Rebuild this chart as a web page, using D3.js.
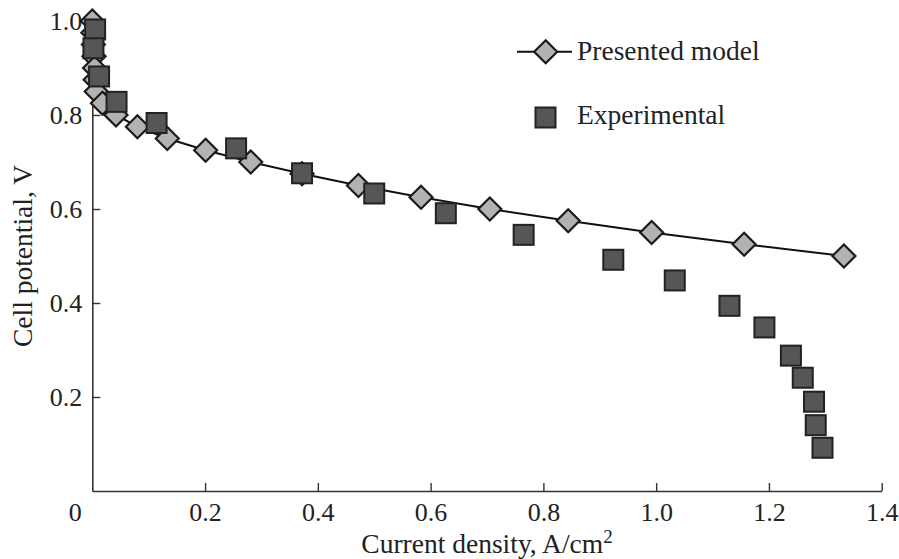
<!DOCTYPE html>
<html>
<head>
<meta charset="utf-8">
<script src="https://cdn.jsdelivr.net/npm/d3@7/dist/d3.min.js"></script>
<style>
  html, body { margin: 0; padding: 0; background: #fff; }
  svg { display: block; }
  text { font-family: "Liberation Serif", "Times New Roman", serif; fill: #222; }
</style>
</head>
<body>
<svg id="chart" width="899" height="559"></svg>
<script>
// Model curve: current density (A/cm2) against cell potential (V)
const modelCurrent   = [0.000, 0.001, 0.002, 0.003, 0.004, 0.005, 0.007, 0.018, 0.042, 0.080,
                        0.133, 0.201, 0.281, 0.372, 0.472, 0.583, 0.705, 0.844, 0.992, 1.156, 1.333];
const modelPotential = [1.000, 0.975, 0.950, 0.925, 0.900, 0.875, 0.850, 0.825, 0.800, 0.775,
                        0.750, 0.725, 0.700, 0.675, 0.650, 0.625, 0.600, 0.575, 0.550, 0.525, 0.500];

// Measured polarisation points
const expCurrent   = [0.005, 0.002, 0.012, 0.043, 0.114, 0.255, 0.372, 0.500, 0.627, 0.765,
                      0.924, 1.033, 1.130, 1.192, 1.239, 1.260, 1.280, 1.283, 1.295];
const expPotential = [0.982, 0.942, 0.882, 0.828, 0.783, 0.729, 0.676, 0.633, 0.591, 0.545,
                      0.492, 0.448, 0.394, 0.348, 0.288, 0.241, 0.190, 0.140, 0.092];

const xTicks = [0.2, 0.4, 0.6, 0.8, 1.0, 1.2, 1.4];
const yTicks = [0.2, 0.4, 0.6, 0.8, 1.0];
const seriesNames = ["Presented model", "Experimental"];

const svg = d3.select("#chart");
const x = d3.scaleLinear().domain([0, 1.4]).range([92.3, 881.7]);
const y = d3.scaleLinear().domain([0, 1.0]).range([491, 21]);

const tickFont = 26;
const titleFont = 27.5;
const axisColor = "#333";

// X axis (ticks pointing into the plot)
const gx = svg.append("g")
  .attr("transform", `translate(0,${y(0)})`)
  .call(d3.axisBottom(x).tickValues(xTicks).tickFormat(d3.format(".1f"))
        .tickSizeInner(-8).tickSizeOuter(0).tickPadding(12));
gx.select(".domain").attr("stroke", axisColor).attr("stroke-width", 1.6);
gx.selectAll(".tick line").attr("stroke", axisColor).attr("stroke-width", 1.4);
gx.selectAll(".tick text").attr("font-size", tickFont).attr("font-family", "Liberation Serif").attr("fill", "#222");

// origin label shared by both axes
svg.append("text")
  .attr("x", x(0) - 17).attr("y", y(0) + 12).attr("dy", "0.71em")
  .attr("text-anchor", "middle").attr("font-size", tickFont).text("0");

// Y axis
const gy = svg.append("g")
  .attr("transform", `translate(${x(0)},0)`)
  .call(d3.axisLeft(y).tickValues(yTicks).tickFormat(d3.format(".1f"))
        .tickSizeInner(-8).tickSizeOuter(0).tickPadding(10));
gy.select(".domain").attr("stroke", axisColor).attr("stroke-width", 1.6);
gy.selectAll(".tick line").attr("stroke", axisColor).attr("stroke-width", 1.4);
gy.selectAll(".tick text").attr("font-size", tickFont).attr("font-family", "Liberation Serif").attr("fill", "#222");

// Axis titles
const xTitle = svg.append("text")
  .attr("x", (x(0) + x(1.4)) / 2).attr("y", 552.5)
  .attr("text-anchor", "middle").attr("font-size", titleFont);
xTitle.append("tspan").text("Current density, A/cm");
xTitle.append("tspan").attr("dy", -10).attr("font-size", 19).text("2");

svg.append("text")
  .attr("transform", `translate(32,${(y(0) + y(1)) / 2}) rotate(-90)`)
  .attr("text-anchor", "middle").attr("font-size", titleFont)
  .text("Cell potential, V");

// Marker shapes
const diamondPath = (r) => `M0,${-r}L${r},0L0,${r}L${-r},0Z`;
const sqSize = 20;

const modelData = modelCurrent.map((c, i) => ({ c, v: modelPotential[i] }));
const expData = expCurrent.map((c, i) => ({ c, v: expPotential[i] }));

// Model line
svg.append("path")
  .datum(modelData)
  .attr("fill", "none").attr("stroke", "#111").attr("stroke-width", 2)
  .attr("d", d3.line().x(d => x(d.c)).y(d => y(d.v)));

// Model diamonds
svg.append("g").selectAll("path")
  .data(modelData).join("path")
  .attr("transform", d => `translate(${x(d.c)},${y(d.v)})`)
  .attr("d", diamondPath(11.5))
  .attr("fill", "#b2b2b2").attr("stroke", "#1a1a1a").attr("stroke-width", 2.2)
  .attr("stroke-linejoin", "miter");

// Experimental squares
svg.append("g").selectAll("rect")
  .data(expData).join("rect")
  .attr("x", d => x(d.c) - sqSize / 2).attr("y", d => y(d.v) - sqSize / 2)
  .attr("width", sqSize).attr("height", sqSize)
  .attr("fill", "#565656").attr("stroke", "#222").attr("stroke-width", 2);

// Legend
const legend = svg.append("g");
legend.append("line")
  .attr("x1", 517).attr("x2", 572).attr("y1", 51.7).attr("y2", 51.7)
  .attr("stroke", "#111").attr("stroke-width", 2);
legend.append("path")
  .attr("transform", "translate(545.7,51.7)")
  .attr("d", diamondPath(11.5))
  .attr("fill", "#b2b2b2").attr("stroke", "#1a1a1a").attr("stroke-width", 2.2);
legend.append("text").attr("x", 577).attr("y", 60).attr("font-size", titleFont).text(seriesNames[0]);

legend.append("rect")
  .attr("x", 545.5 - sqSize / 2).attr("y", 117.5 - sqSize / 2)
  .attr("width", sqSize).attr("height", sqSize)
  .attr("fill", "#565656").attr("stroke", "#222").attr("stroke-width", 2);
legend.append("text").attr("x", 577).attr("y", 123.5).attr("font-size", titleFont).text(seriesNames[1]);
</script>
</body>
</html>
